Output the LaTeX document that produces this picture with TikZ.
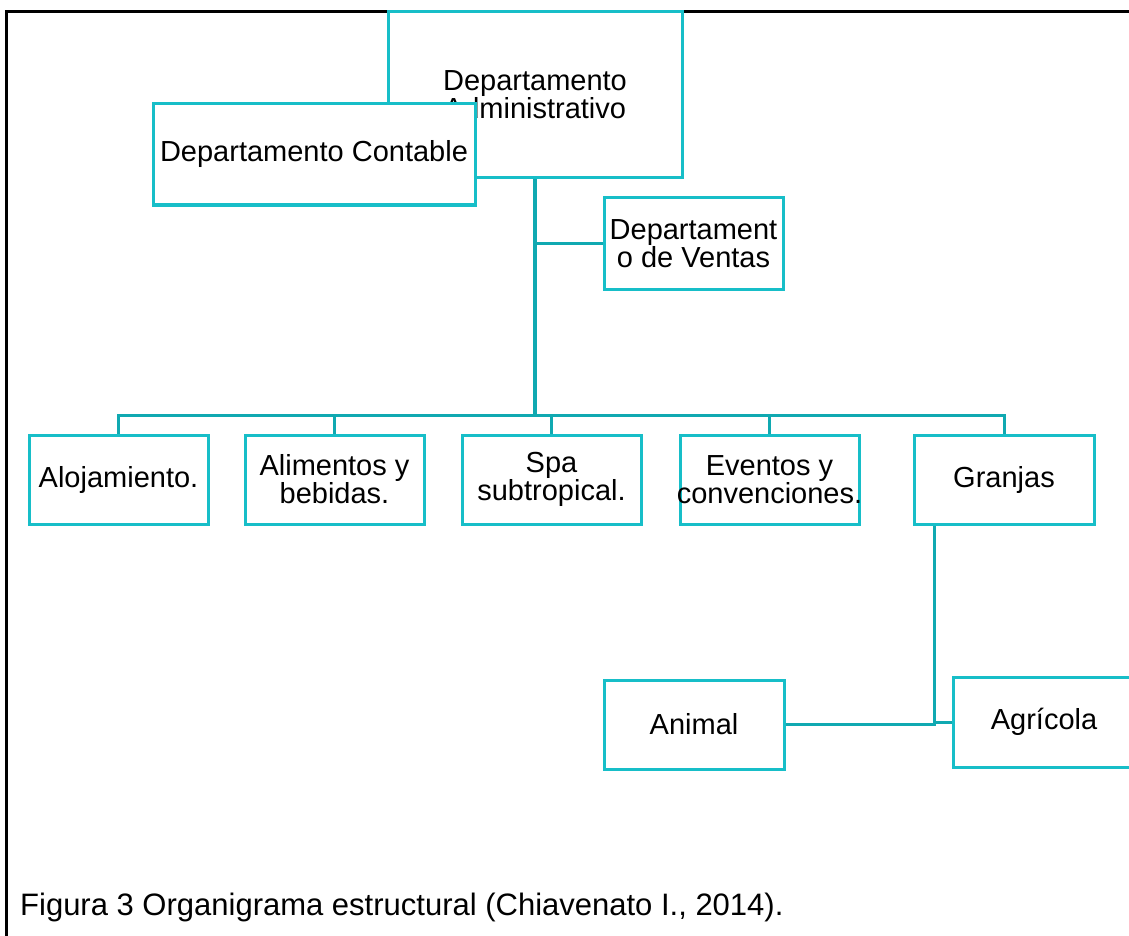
\documentclass[tikz,border=0pt]{standalone}
\usepackage{fontspec}
\setmainfont{Liberation Sans}
\definecolor{boxc}{HTML}{17BEC8}
\definecolor{linec}{HTML}{10A9B1}
\tikzset{
  orgbox/.style={draw=boxc, line width=3pt, fill=white, align=center, inner sep=0pt,
    font=\fontsize{29}{29}\selectfont},
  conn/.style={draw=linec, line width=3pt},
}
\begin{document}
\begin{tikzpicture}[x=1pt,y=-1pt]
\useasboundingbox (0,0) rectangle (1129,936);
\clip (0,0) rectangle (1129,936);
\fill[white] (0,0) rectangle (1129,936);
% outer frame
\draw[black, line width=3pt] (6,960) -- (6,12) -- (1160,12);
% boxes
\node[orgbox, minimum width=294pt, minimum height=166pt] (admin) at (535,95) {Departamento\\[-1pt]Administrativo};
\node[orgbox, minimum width=322pt, minimum height=101pt] (cont) at (314,154.5) {Departamento Contable};
\node[orgbox, minimum width=179pt, minimum height=91pt] (ventas) at (693.5,243.5) {Departament\\[-1pt]o de Ventas};
\node[orgbox, minimum width=179pt, minimum height=89pt] (aloj) at (118.5,479.5) {Alojamiento.};
\node[orgbox, minimum width=179pt, minimum height=89pt] (alim) at (334.5,479.5) {Alimentos y\\[-1pt]bebidas.};
\node[orgbox, minimum width=179pt, minimum height=89pt] (spa) at (551.5,479.5) {Spa\\[-1pt]subtropical.};
\node[orgbox, minimum width=179pt, minimum height=89pt, inner xsep=-4pt] (even) at (769.5,479.5) {Eventos y\\[-1pt]convenciones.};
\node[orgbox, minimum width=180pt, minimum height=89pt] (granj) at (1004,479.5) {Granjas};
\node[orgbox, minimum width=180pt, minimum height=89pt] (anim) at (694,724.5) {Animal};
\node[orgbox, minimum width=182pt, minimum height=90pt] (agri) at (1044,722) {Agrícola};
% connectors
\coordinate (bus) at (535,415);
\coordinate (vj) at (535,243.5);
\coordinate (gj) at (934,722);
\draw[conn, line width=4pt] (admin.south) -- (bus);
\draw[conn] (vj) -- (ventas.west);
\draw[conn] (aloj.north) |- (bus);
\draw[conn] (granj.north) |- (bus);
\draw[conn] (alim.north) -- (alim.north |- bus);
\draw[conn] (spa.north) -- (spa.north |- bus);
\draw[conn] (even.north) -- (even.north |- bus);
\draw[conn] (gj |- granj.south) -- (gj |- anim.east) -- (anim.east);
\draw[conn] (gj) -- (agri.west);
% caption
\node[anchor=base west, inner sep=0pt, font=\fontsize{31}{31}\selectfont] (cap) at (20,915) {Figura 3 Organigrama estructural (Chiavenato I., 2014).};
\end{tikzpicture}
\end{document}
